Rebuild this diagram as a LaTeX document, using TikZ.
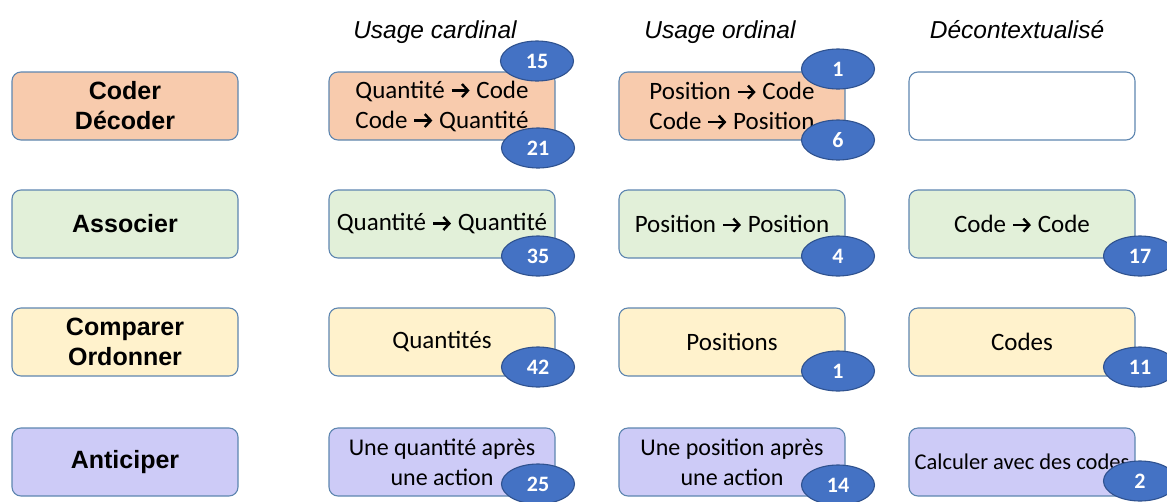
\documentclass[tikz,border=0pt]{standalone}
\usepackage{fontspec}
\setmainfont{Carlito}
\newfontfamily\headfont{Liberation Sans}
\usetikzlibrary{shapes.geometric,arrows.meta}

\definecolor{boxline}{HTML}{5E86B0}
\definecolor{coderfill}{HTML}{F8CBAD}
\definecolor{assocfill}{HTML}{E2F0D9}
\definecolor{compfill}{HTML}{FFF2CC}
\definecolor{antifill}{HTML}{CDCBF7}
\definecolor{numfill}{HTML}{4472C4}
\definecolor{numline}{HTML}{2F528F}

% the bold arrow used in the cells
\newcommand{\fl}{\tikz[baseline=-0.3em]\draw[line width=2.4pt,-{Straight Barb[length=6pt,width=13pt]}] (0pt,0pt) -- (18pt,0pt);}

\begin{document}
\begin{tikzpicture}[x=1pt,y=-1pt,
  box/.style={rectangle,rounded corners=9pt,draw=boxline,line width=1.1pt,
    minimum width=226pt,minimum height=68pt,inner sep=0pt,align=center,
    font=\fontsize{25}{30}\selectfont},
  lab/.style={box,font=\headfont\bfseries\fontsize{25}{30}\selectfont},
  head/.style={anchor=base,font=\headfont\itshape\fontsize{24.5}{28}\selectfont},
  num/.style={ellipse,draw=numline,fill=numfill,line width=1.1pt,
    minimum width=73pt,minimum height=40pt,inner sep=0pt,text=white,
    font=\bfseries\fontsize{22}{24}\selectfont}]
\useasboundingbox (0,0) rectangle (1167,501);
\clip (0,0) rectangle (1167,501);

% column titles
\node [head] (h1) at (435,38) {Usage cardinal};
\node [head] (h2) at (720,38) {Usage ordinal};
\node [head] (h3) at (1017,38) {Décontextualisé};

% row titles
\node [lab,fill=coderfill] (lab1) at (125,106) {Coder\\Décoder};
\node [lab,fill=assocfill] (lab2) at (125,224) {Associer};
\node [lab,fill=compfill]  (lab3) at (125,342) {Comparer\\Ordonner};
\node [lab,fill=antifill]  (lab4) at (125,462) {Anticiper};

% coder / decoder
\node [box,fill=coderfill] (c11) at (442,106) {Quantité \fl{} Code\\Code \fl{} Quantité};
\node [box,fill=coderfill] (c12) at (732,106) {Position \fl{} Code\\Code \fl{} Position};
\node [box,fill=white]     (c13) at (1022,106) {};

% associer
\node [box,fill=assocfill] (c21) at (442,224) {Quantité \fl{} Quantité};
\node [box,fill=assocfill] (c22) at (732,224) {Position \fl{} Position};
\node [box,fill=assocfill] (c23) at (1022,224) {Code \fl{} Code};

% comparer / ordonner
\node [box,fill=compfill] (c31) at (442,342) {Quantités};
\node [box,fill=compfill] (c32) at (732,342) {Positions};
\node [box,fill=compfill] (c33) at (1022,342) {Codes};

% anticiper
\node [box,fill=antifill,font=\fontsize{24}{30}\selectfont] (c41) at (442,462) {Une quantité après\\une action};
\node [box,fill=antifill,font=\fontsize{24}{30}\selectfont] (c42) at (732,462) {Une position après\\une action};
\node [box,fill=antifill,font=\fontsize{22.5}{27}\selectfont] (c43) at (1022,462) {Calculer avec des codes};

% counts
\node [num] (n11a) at (537,61) {15};
\node [num] (n11b) at (538,148) {21};
\node [num] (n12a) at (838,69) {1};
\node [num] (n12b) at (838,140) {6};
\node [num] (n21) at (538,256) {35};
\node [num] (n22) at (838,256) {4};
\node [num] (n23) at (1140,256) {17};
\node [num] (n31) at (538,367) {42};
\node [num] (n32) at (838,371) {1};
\node [num] (n33) at (1140,367) {11};
\node [num] (n41) at (538,484) {25};
\node [num] (n42) at (838,485) {14};
\node [num] (n43) at (1140,481) {2};
\end{tikzpicture}
\end{document}
